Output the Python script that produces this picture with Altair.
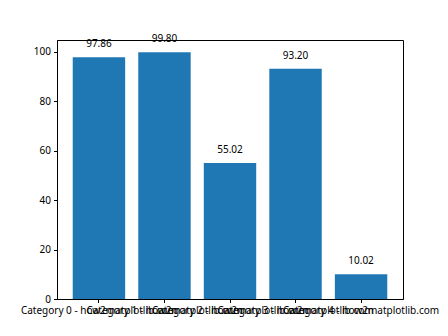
import altair as alt
import pandas as pd

categories = [f"Category {i} - how2matplotlib.com" for i in range(5)]
values = [97.86, 99.80, 55.02, 93.20, 10.02]
labels = ["97.86", "99.80", "55.02", "93.20", "10.02"]

df = pd.DataFrame({"cat": categories, "val": values, "lab": labels})
FONT = "Noto Sans"

x = alt.X("cat:N", sort=categories, title=None,
          scale=alt.Scale(paddingInner=0.2, paddingOuter=0.24),
          axis=alt.Axis(labelAngle=0, labelOverlap=False, labelLimit=0,
                        labelFontSize=10, labelColor="black", labelFont=FONT,
                        tickColor="black", domainColor="black", tickSize=3.5,
                        labelPadding=3))
y = alt.Y("val:Q", title=None,
          scale=alt.Scale(domain=[0, 104.79], nice=False, zero=False),
          axis=alt.Axis(values=[0, 20, 40, 60, 80, 100], grid=False,
                        labelFontSize=10, labelColor="black", labelFont=FONT,
                        tickColor="black", domainColor="black", tickSize=3.5,
                        labelPadding=3))

bars = alt.Chart(df).mark_bar(color="#1f77b4").encode(x=x, y=y)
text = alt.Chart(df).mark_text(fontSize=10, font=FONT, color="black",
                               baseline="alphabetic", dy=-10).encode(
    x=alt.X("cat:N", sort=categories), y="val:Q", text="lab:N")

chart = (bars + text).properties(
    width=346, height=259,
    autosize=alt.AutoSizeParams(type="none"),
    padding={"left": 57, "top": 40, "right": 45, "bottom": 37},
).configure_view(stroke="black", strokeWidth=1).configure_axis(domainWidth=1)

chart.save("out.html", embed_options={"renderer": "svg", "actions": False})
